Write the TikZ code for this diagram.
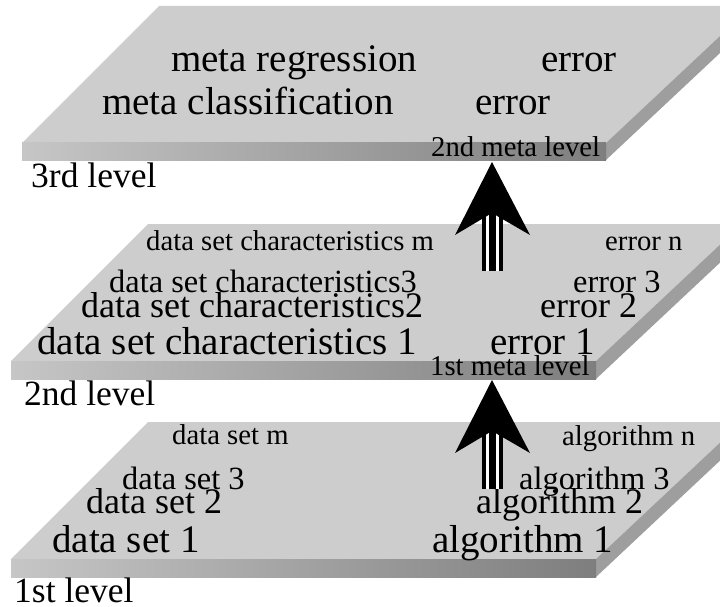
\documentclass[tikz,border=0pt]{standalone}
\usepackage{fontspec}
\setmainfont{Liberation Serif}
\usetikzlibrary{calc}

\definecolor{topgray}{RGB}{205,205,205}
\definecolor{sidegray}{RGB}{158,158,158}
\definecolor{frontlight}{RGB}{198,198,198}
\definecolor{frontdark}{RGB}{126,126,126}

\begin{document}
\begin{tikzpicture}[x=1pt, y=-1pt]

% Define slab and text styles
\tikzstyle{topface} = [fill=topgray]
\tikzstyle{sideface} = [fill=sidegray]
\tikzstyle{frontface} = [left color=frontlight, right color=frontdark]
\tikzstyle{word} = [inner sep=0pt, anchor=base west, text=black]
\tikzstyle{hugetext} = [word, font=\fontsize{39}{40}\selectfont]
\tikzstyle{bigtext} = [word, font=\fontsize{36}{37}\selectfont]
\tikzstyle{midtext} = [word, font=\fontsize{32.4}{33}\selectfont]
\tikzstyle{smalltext} = [word, font=\fontsize{28.7}{29}\selectfont]
\tikzstyle{leveltext} = [word, font=\fontsize{35.5}{36}\selectfont]
\tikzstyle{shaftout} = [line width=21pt, draw=black]
\tikzstyle{shaftgap} = [line width=13pt, draw=white]
\tikzstyle{shaftmid} = [line width=7pt, draw=black]
\tikzstyle{head} = [fill=black]

\useasboundingbox (0,0) rectangle (720,607);
\clip (0,0) rectangle (720,607);

% Define the three slabs (left x, front y, width, thickness)
\foreach \x/\y/\w/\t in {22/143/584/17, 11/361/585/18, 11/559/585/18} {
  \fill[topface] (\x,\y) -- ++(137,-137) -- ++(\w+9,0) -- (\x+\w,\y) -- cycle;
  \fill[sideface] (\x+\w,\y) -- ++(146,-137) -- ++(0,\t) -- ++(-146,137) -- cycle;
  \shade[frontface] (\x,\y) rectangle ++(\w,\t);
}

% 3rd level
\node[hugetext] (metaRegression) at (171,72) {meta regression};
\node[hugetext] (regressionError) at (541,72) {error};
\node[hugetext] (metaClassification) at (102,115) {meta classification};
\node[hugetext] (classificationError) at (475,115) {error};
\node[smalltext] (secondMeta) at (431,157) {2nd meta level};
\node[leveltext] (thirdLevel) at (31,187) {3rd level};

% 2nd level
\node[smalltext] (charM) at (146,250) {data set characteristics m};
\node[smalltext] (errorN) at (605,250) {error n};
\node[midtext] (charThree) at (109,292) {data set characteristics3};
\node[midtext] (errorThree) at (573,292) {error 3};
\node[bigtext] (charTwo) at (81,317) {data set characteristics2};
\node[bigtext] (errorTwo) at (540,317) {error 2};
\node[hugetext] (charOne) at (37,354) {data set characteristics 1};
\node[hugetext] (errorOne) at (490,354) {error 1};
\node[smalltext] (firstMeta) at (430,375) {1st meta level};
\node[leveltext] (secondLevel) at (24,405) {2nd level};

% 1st level
\node[smalltext] (dataM) at (172,444) {data set m};
\node[smalltext] (algoN) at (562,445) {algorithm n};
\node[midtext] (dataThree) at (122,489) {data set 3};
\node[midtext] (algoThree) at (519,489) {algorithm 3};
\node[bigtext] (dataTwo) at (86,513) {data set 2};
\node[bigtext] (algoTwo) at (476,513) {algorithm 2};
\node[hugetext] (dataOne) at (52,552) {data set 1};
\node[hugetext] (algoOne) at (432,552) {algorithm 1};
\node[leveltext] (firstLevel) at (14,602) {1st level};

% Arrows between levels
\coordinate (tail1) at (492,489);
\coordinate (tip1) at (492,380);
\coordinate (tail2) at (492,271);
\coordinate (tip2) at (492,162);

\foreach \i in {1,2} {
  \draw[shaftout] (tail\i) -- ($(tip\i)+(0,50)$);
  \draw[shaftgap] (tail\i) -- ($(tip\i)+(0,50)$);
  \draw[shaftmid] (tail\i) -- ($(tip\i)+(0,50)$);
  \fill[head] (tip\i) -- ++(38,73) -- ++(-38,-22) -- ++(-37,22) -- cycle;
}

\end{tikzpicture}
\end{document}
